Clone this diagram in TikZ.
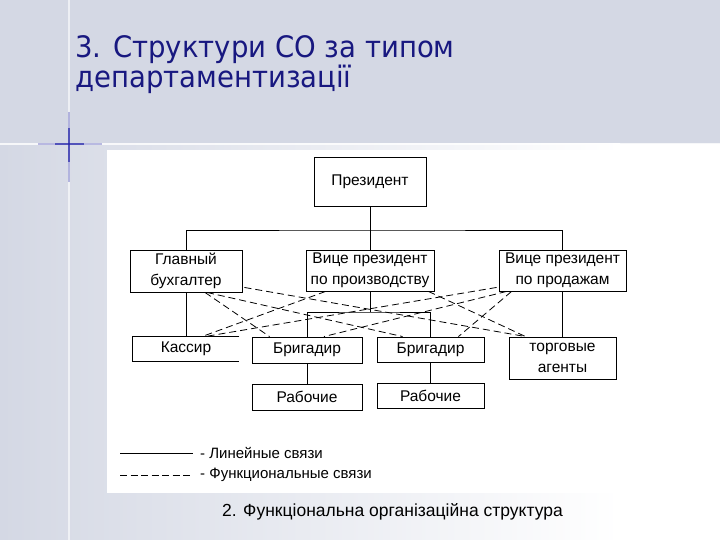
\documentclass[tikz,border=0pt]{standalone}
\usepackage{fontspec}
\setmainfont{Liberation Sans}
\newfontfamily\titlefont[FakeStretch=0.93]{DejaVu Sans}
\usetikzlibrary{calc}
\definecolor{slidebg}{RGB}{212,216,228}
\definecolor{titleblue}{RGB}{24,24,128}
\definecolor{crossblue}{RGB}{40,40,170}
\begin{document}
\begin{tikzpicture}[x=1pt,y=-1pt,
  box/.style={draw, line width=0.9pt, inner sep=0pt, align=center, font=\fontsize{15.5}{20.5}\selectfont},
  link/.style={line width=0.9pt},
  flink/.style={line width=0.8pt, dash pattern=on 7pt off 4pt},
  lbl/.style={anchor=west, inner sep=0pt, font=\fontsize{15}{17}\selectfont},
  ttl/.style={anchor=base west, inner sep=0pt, text=titleblue, font=\titlefont\fontsize{29.6}{30}\selectfont}]
\useasboundingbox (0,0) rectangle (720,540);
% slide background
\fill[slidebg] (0,0) rectangle (720,144);
\fill[white] (0,144) rectangle (720,540);
\shade[left color=slidebg, right color=white] (0,144) rectangle (620,540);
\draw[white, line width=2pt, opacity=0.8] (0,144) -- (720,144);
\draw[white, line width=1.5pt, opacity=0.6] (69,0) -- (69,540);
\draw[crossblue, opacity=0.3, line width=1.6pt] (38,144) -- (102,144);
\draw[crossblue, opacity=0.7, line width=1.2pt] (55,144) -- (84,144);
\draw[crossblue, opacity=0.3, line width=1.6pt] (69,112) -- (69,182);
\draw[crossblue, opacity=0.7, line width=1.2pt] (69,128) -- (69,162);
% picture area
\fill[white] (107,150) rectangle (632,493);
% title
\node[ttl] (t1) at (75,58) {3. Структури СО за типом};
\node[ttl] (t2) at (75,88) {департаментизації};
% boxes
\node[box, minimum width=112pt, minimum height=49pt] (pres) at (370,181.5) {Президент};
\node[box, minimum width=112pt, minimum height=42pt] (buh) at (186,271) {Главный\\бухгалтер};
\node[box, minimum width=128pt, minimum height=41pt] (vpp) at (370,270.5) {Вице президент\\по производству};
\node[box, minimum width=127pt, minimum height=41pt] (vps) at (562.5,270.5) {Вице президент\\по продажам};
\node[box, draw=none, minimum width=106pt, minimum height=24pt] (kas) at (186,349) {Кассир};
\node[box, minimum width=110pt, minimum height=26pt] (br1) at (307,350) {Бригадир};
\node[box, minimum width=107pt, minimum height=25pt] (br2) at (430.5,349.5) {Бригадир};
\node[box, minimum width=107pt, minimum height=42pt] (tor) at (562.5,358) {торговые\\агенты};
\node[box, minimum width=110pt, minimum height=26pt] (rab1) at (307,397) {Рабочие};
\node[box, minimum width=107pt, minimum height=25pt] (rab2) at (430.5,395.5) {Рабочие};
\draw[link] (kas.north east) -- (kas.north west) -- (kas.south west) -- (kas.south east);
% line links
\coordinate (top) at (370,230);
\coordinate (mid) at (370,312);
\draw[link] (pres.south) -- (vpp.north);
\draw[link] (buh.north) |- (top) -| (vps.north);
\draw[link] (buh.south) -- (kas.north);
\draw[link] (vps.south) -- (tor.north);
\draw[link] (vpp.south) -- (mid);
\draw[link] (br1.north) |- (mid) -| (br2.north);
\draw[link] (br1.south) -- (rab1.north);
\draw[link] (br2.south) -- (rab2.north);
% functional links
\draw[flink] ($(buh.south east)+(2,-5)$) -- ($(tor.north west)+(17,0)$);
\draw[flink] ($(buh.south)+(19,0)$) -- ($(br1.north west)+(18,0)$);
\draw[flink] ($(buh.south)+(21,0)$) -- ($(br2.north west)+(26,0)$);
\draw[flink] ($(vpp.south west)+(20,0)$) -- ($(kas.north)+(16,0)$);
\draw[flink] ($(vpp.south east)+(-6,0)$) -- ($(tor.north west)+(17,0)$);
\draw[flink] ($(vps.south west)+(-2,-4)$) -- ($(kas.north)+(19,0)$);
\draw[flink] ($(vps.south west)+(8,0)$) -- ($(br1.north)+(17,0)$);
\draw[flink] ($(vps.south west)+(13,0)$) -- ($(br2.north east)+(-26,0)$);
% legend
\coordinate (l1a) at (120,453);
\coordinate (l1b) at (193,453);
\coordinate (l2a) at (120,475);
\coordinate (l2b) at (193,475);
\draw[link] (l1a) -- (l1b);
\draw[line width=0.8pt, dash pattern=on 7pt off 3.5pt] (l2a) -- (l2b);
\node[lbl] (lt1) at (200,453) {- Линейные связи};
\node[lbl] (lt2) at (200,475) {- Функциональные связи};
% caption
\node[inner sep=0pt, font=\fontsize{17.5}{20}\selectfont] (cap) at (392.5,512) {2. Функціональна організаційна структура};
\end{tikzpicture}
\end{document}
